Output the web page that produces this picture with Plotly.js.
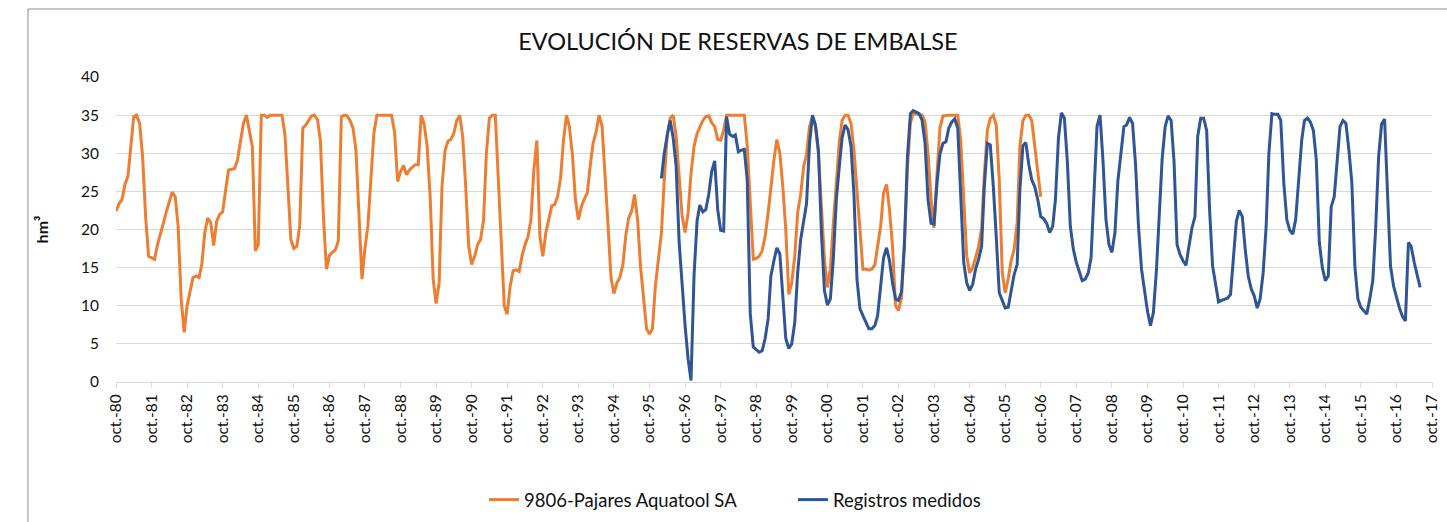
<!DOCTYPE html>
<html>
<head>
<meta charset="utf-8">
<script src="https://cdn.plot.ly/plotly-3.0.1.min.js"></script>
<style>
  html, body { margin: 0; padding: 0; background: #fff; }
  #graph-canvas { width: 1447px; height: 522px; }
</style>
</head>
<body>
<div id="graph-canvas"></div>
<script>
// monthly reserves (hm3), orange series starts oct-1980
var aquatoolStart = [1980, 10];
var aquatool = [
    22.4, 23.4, 23.9, 25.9, 27.0, 30.4, 34.8, 35, 33.9, 29.6,
    21.7, 16.5, 16.3, 16.1, 18.0, 19.3, 20.9, 22.3, 23.5, 24.9,
    24.3, 20.4, 10.9, 6.5, 10, 12, 13.7, 13.9, 13.7, 15.4,
    19.6, 21.5, 20.9, 17.9, 21.1, 22, 22.3, 25.2, 27.8, 27.9,
    28, 29.1, 31.3, 33.9, 35, 32.8, 30.9, 17.2, 18, 35,
    35, 34.7, 35, 35, 35, 35, 35, 32.6, 25.7, 18.7,
    17.5, 17.8, 20.5, 33.3, 33.7, 34.3, 34.9, 35, 34.4, 31.7,
    21.7, 14.8, 16.6, 17, 17.3, 18.5, 34.8, 35, 34.9, 34.3,
    33.3, 30.4, 22.2, 13.5, 17.5, 20.5, 26.5, 32.6, 35, 35,
    35, 35, 35, 35, 32.7, 26.3, 27.6, 28.4, 27.2, 27.8,
    28.2, 28.5, 28.5, 35, 33.8, 30.9, 24.3, 13.5, 10.3, 13,
    25.7, 30.4, 31.6, 31.8, 32.6, 34.3, 35, 32.2, 25.7, 17.8,
    15.4, 16.5, 18, 18.7, 21.3, 29.9, 34.6, 35, 35, 27.2,
    17.8, 10, 8.9, 12.6, 14.6, 14.7, 14.5, 16.5, 18, 19,
    21.3, 27.8, 31.7, 19.1, 16.5, 19.6, 21.3, 23.1, 23.3, 24.3,
    26.7, 31.7, 35, 33.5, 29.8, 23.9, 21.3, 23, 24, 24.8,
    28.5, 31.3, 32.8, 35, 33.6, 27.8, 20.7, 13.7, 11.6, 13,
    13.7, 15.4, 19.3, 21.5, 22.4, 24.6, 21.3, 15.2, 10.9, 7,
    6.3, 7, 12.6, 16.5, 19.6, 26.5, 32.4, 34.6, 35, 32.2,
    27.4, 21.7, 19.6, 22.2, 27.4, 30.9, 32.6, 33.5, 34.3, 34.8,
    34.9, 34, 33.5, 31.8, 31.7, 33, 35, 35, 35, 35,
    35, 35, 35, 31, 24, 16.1, 16.2, 16.5, 17.2, 19.1,
    22.2, 25.9, 29.1, 31.8, 30, 25.7, 20, 11.5, 13, 16.5,
    22.2, 24.6, 28.3, 29.8, 33.5, 34.8, 33.5, 30, 23, 16.1,
    12.4, 14.8, 20.7, 26.1, 31.5, 34.3, 35, 35, 33.9, 30.4,
    25.2, 19.1, 14.8, 14.8, 14.7, 14.8, 15.4, 17.8, 20.4, 24.8,
    25.9, 22.6, 17.8, 10, 9.4, 11, 18, 28, 34, 35.2,
    35.1, 35, 35, 34.1, 30, 24, 20.2, 27.3, 33.3, 34.9,
    35, 35, 35, 35, 35, 31.7, 24.8, 16.5, 14.3, 15,
    16.3, 17.8, 20.2, 27.2, 33, 34.6, 35, 33.7, 26.5, 14.3,
    11.7, 13.5, 15.9, 17.4, 20.9, 30.9, 34.3, 35, 35, 34.3,
    30.9, 27.8, 24.3
];

// measured series starts feb-1996
var medidosStart = [1996, 2];
var medidos = [
    26.7, 30, 32.4, 34.3, 32, 28.3, 18.3, 12.6, 7.4, 3,
    0.2, 14, 21.1, 23.2, 22.3, 22.6, 24.6, 27.6, 29, 22.6,
    19.9, 19.8, 34.8, 32.5, 32.2, 32.4, 30.2, 30.4, 30.5, 26.5,
    9, 4.6, 4.3, 3.9, 4.1, 5.7, 8.3, 13.9, 15.9, 17.6,
    16.8, 11.7, 5.7, 4.4, 5, 7.8, 14.3, 18.7, 20.9, 23.4,
    31.3, 35, 33.7, 30.4, 19.6, 12, 10.1, 10.9, 16.1, 23.9,
    28.3, 32, 33.7, 33.1, 30.9, 24.6, 13.5, 9.6, 8.7, 7.7,
    7, 7, 7.4, 8.7, 12.6, 16.3, 17.6, 15.9, 13, 10.9,
    10.7, 11.8, 18, 29.5, 35.2, 35.6, 35.4, 35.2, 34.3, 31.3,
    23.9, 20.8, 20.7, 26.1, 29.9, 31.3, 31.5, 33.3, 34.1, 34.5,
    33.3, 25.2, 15.7, 13, 12, 12.8, 14.8, 16.1, 17.8, 25.7,
    31.3, 31.1, 25.7, 19.1, 11.7, 10.7, 9.7, 9.8, 12, 14.1,
    15.4, 25.2, 31, 31.4, 28.5, 26.5, 25.6, 23.9, 21.7, 21.4,
    20.8, 19.6, 20.4, 23.9, 32, 35.3, 34.6, 29, 20.4, 17.4,
    15.7, 14.6, 13.3, 13.5, 14.3, 16.3, 25.2, 33.5, 35, 29.1,
    21.3, 18, 17, 19.6, 26.3, 30.4, 33.5, 33.7, 34.7, 33.9,
    28.5, 20.4, 14.8, 12, 9.3, 7.4, 9.1, 14.6, 21.5, 29.3,
    33.5, 34.9, 34.3, 28.9, 18, 16.7, 15.9, 15.3, 17.8, 20.2,
    21.7, 32.2, 34.6, 34.6, 33, 22.6, 15.2, 13, 10.5, 10.7,
    10.9, 11, 11.5, 15.8, 21.1, 22.5, 21.7, 17.4, 13.9, 12.2,
    11.3, 9.7, 10.9, 14.3, 20.4, 30, 35.2, 35.1, 35.1, 34.3,
    26.1, 21.3, 19.9, 19.4, 21.3, 26.5, 31.7, 34.3, 34.6, 34.1,
    33, 29.1, 18.3, 15, 13.3, 13.9, 23, 24.3, 28.9, 33.5,
    34.3, 33.9, 30.4, 26.1, 15.2, 10.9, 9.8, 9.3, 8.9, 10.9,
    13.3, 20, 29.6, 33.8, 34.5, 24.8, 15.2, 12.6, 11, 9.7,
    8.6, 8, 18.3, 17.8, 15.7, 13.9, 12.4
];

var seriesNames = ['9806-Pajares Aquatool SA', 'Registros medidos'];
var tickYears = [];
for (var y = 1980; y <= 2017; y++) tickYears.push(y);

function monthDates(start, n) {
    var out = [];
    for (var i = 0; i < n; i++) {
        var m = start[1] - 1 + i;
        var yy = start[0] + Math.floor(m / 12);
        var mm = (m % 12) + 1;
        out.push(yy + '-' + (mm < 10 ? '0' + mm : mm) + '-01');
    }
    return out;
}

function renderChart() {
    var font = 'Lato, "Open Sans", sans-serif';
    var data = [
        {
            type: 'scatter',
            mode: 'lines',
            name: seriesNames[0],
            x: monthDates(aquatoolStart, aquatool.length),
            y: aquatool,
            line: { color: '#ED7D31', width: 3 }
        },
        {
            type: 'scatter',
            mode: 'lines',
            name: seriesNames[1],
            x: monthDates(medidosStart, medidos.length),
            y: medidos,
            line: { color: '#2F5597', width: 3 }
        }
    ];
    var layout = {
        width: 1447,
        height: 522,
        margin: { l: 116, r: 15, t: 77, b: 140, autoexpand: false },
        paper_bgcolor: '#fff',
        plot_bgcolor: '#fff',
        font: { family: font, color: '#111', size: 15 },
        title: {
            text: 'EVOLUCIÓN DE RESERVAS DE EMBALSE',
            font: { family: font, size: 23.5, color: '#111' },
            x: 0.51,
            xanchor: 'center',
            y: 0.92,
            yanchor: 'middle'
        },
        xaxis: {
            type: 'date',
            range: ['1980-10-01', '2017-10-01'],
            tickmode: 'array',
            tickvals: tickYears.map(function (y) { return y + '-10-01'; }),
            ticktext: tickYears.map(function (y) { return 'oct.-' + String(y).slice(2); }),
            tickangle: -90,
            ticks: 'outside',
            ticklen: 5,
            tickcolor: '#d9d9d9',
            showgrid: false,
            showline: true,
            linecolor: '#d9d9d9',
            linewidth: 1,
            zeroline: false,
            tickfont: { size: 15.5 }
        },
        yaxis: {
            range: [0, 40],
            dtick: 5,
            tick0: 0,
            gridcolor: '#d9d9d9',
            zeroline: false,
            showline: false,
            ticks: 'outside',
            ticklen: 13,
            tickcolor: 'rgba(0,0,0,0)',
            tickfont: { size: 15.5 },
            title: { text: '<b>hm³</b>', font: { size: 16 }, standoff: 28 }
        },
        showlegend: true,
        legend: {
            orientation: 'h',
            xref: 'container',
            yref: 'container',
            x: 0.548,
            xanchor: 'center',
            y: 0.042,
            yanchor: 'middle',
            font: { size: 18.5 },
            entrywidth: 264,
            entrywidthmode: 'pixels'
        },
        shapes: [
            { type: 'line', xref: 'paper', yref: 'paper', x0: -0.0669, x1: 1.2, y0: 1.223, y1: 1.223,
              line: { color: '#8c8c8c', width: 1 } },
            { type: 'line', xref: 'paper', yref: 'paper', x0: -0.0669, x1: -0.0669, y0: 1.223, y1: -0.6,
              line: { color: '#8c8c8c', width: 1 } }
        ]
    };
    Plotly.newPlot('graph-canvas', data, layout, { staticPlot: true, displayModeBar: false });
}

renderChart();
</script>
</body>
</html>
